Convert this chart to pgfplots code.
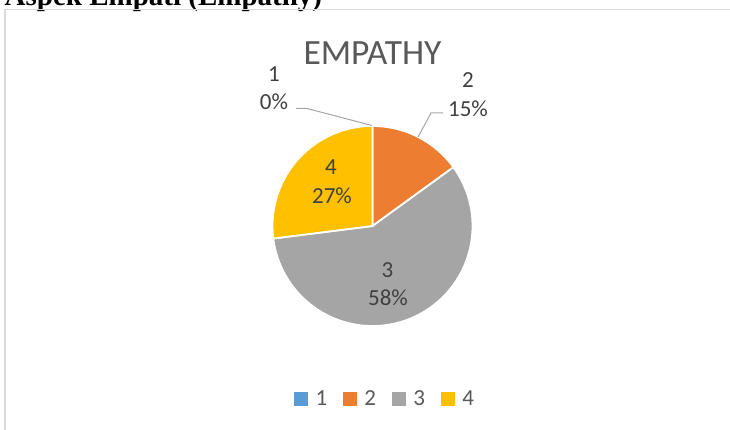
\documentclass[border=0pt]{standalone}
\usepackage{pgfplots}
\pgfplotsset{compat=1.18}
\usepackage{pgfplotstable}
\usepackage{fontspec}
\setmainfont{Carlito}
\newfontfamily\headfont{Liberation Serif}
\definecolor{c1}{HTML}{5B9BD5}
\definecolor{c2}{HTML}{ED7D31}
\definecolor{c3}{HTML}{A5A5A5}
\definecolor{c4}{HTML}{FFC000}
\definecolor{ttl}{HTML}{595959}
\definecolor{lbl}{HTML}{404040}
\definecolor{lead}{HTML}{A6A6A6}
\definecolor{frame}{HTML}{D9D9D9}

\pgfplotstableread{
cat value
1 0
2 15
3 58
4 27
}\pietable
\pgfplotstablegetelem{0}{value}\of\pietable \let\vA\pgfplotsretval
\pgfplotstablegetelem{1}{value}\of\pietable \let\vB\pgfplotsretval
\pgfplotstablegetelem{2}{value}\of\pietable \let\vC\pgfplotsretval
\pgfplotstablegetelem{3}{value}\of\pietable \let\vD\pgfplotsretval
\pgfmathsetmacro{\aO}{90}
\pgfmathsetmacro{\aA}{\aO-3.6*\vA}
\pgfmathsetmacro{\aB}{\aA-3.6*\vB}
\pgfmathsetmacro{\aC}{\aB-3.6*\vC}
\pgfmathsetmacro{\aD}{\aC-3.6*\vD}

\begin{document}
\begin{tikzpicture}[x=1pt,y=1pt,
  lab/.style={anchor=base, inner sep=0pt, text=lbl, font=\fontsize{23}{24}\selectfont}]
\useasboundingbox (0,0) rectangle (730,-430);
\clip (0,0) rectangle (730,-430);
\node[anchor=base west, inner sep=0pt, font=\headfont\bfseries\fontsize{29}{30}\selectfont] at (4.5,-6) {Aspek Empati (Empathy)};
\draw[color=frame, line width=1.3pt] (5,-440) -- (5,-9.5) -- (740,-9.5);
\node[anchor=base, inner sep=0pt, text=ttl, font=\fontsize{35.5}{36}\selectfont] at (372.5,-65) {EMPATHY};
\begin{axis}[at={(372.5,-226)}, anchor=center, x=100pt, y=100pt,
  xmin=-1, xmax=1, ymin=-1, ymax=1, hide axis, clip=false,
  legend columns=4,
  legend image code/.code={\fill[#1, draw=none] (0pt,0pt) rectangle (14pt,14pt);},
  legend style={at={(0.1075,-0.365)}, anchor=west, draw=none, fill=none,
    inner sep=0pt, outer sep=0pt, column sep=0pt,
    font=\fontsize{23}{24}\selectfont, text=ttl,
    cells={anchor=base west, inner sep=0pt},
    /tikz/every odd column/.append style={column sep=5.5pt},
    /tikz/every even column/.append style={column sep=13.8pt}},
  ]
\addplot[forget plot, draw=white, line width=1.8pt, fill=c2, domain=\aB:\aA, samples=60, variable=\t] ({cos(\t)},{sin(\t)}) -- (axis cs:0,0) -- cycle;
\addplot[forget plot, draw=white, line width=1.8pt, fill=c3, domain=\aC:\aB, samples=120, variable=\t] ({cos(\t)},{sin(\t)}) -- (axis cs:0,0) -- cycle;
\addplot[forget plot, draw=white, line width=1.8pt, fill=c4, domain=\aD:\aC, samples=80, variable=\t] ({cos(\t)},{sin(\t)}) -- (axis cs:0,0) -- cycle;
\addplot[forget plot, color=lead, line width=1pt] coordinates {(-0.765,1.175) (-0.655,1.175) (-0.005,1.005)};
\addplot[forget plot, color=lead, line width=1pt] coordinates {(0.705,1.13) (0.585,1.13) (0.455,0.89)};
\addlegendimage{fill=c1, draw=none}\addlegendentry{1}
\addlegendimage{fill=c2, draw=none}\addlegendentry{2}
\addlegendimage{fill=c3, draw=none}\addlegendentry{3}
\addlegendimage{fill=c4, draw=none}\addlegendentry{4}
\end{axis}
\node[lab] at (274,-82) {1};
\node[lab] at (274,-110) {0\%};
\node[lab] at (468,-88) {2};
\node[lab] at (468,-117) {15\%};
\node[lab] at (331,-175) {4};
\node[lab] at (332,-204) {27\%};
\node[lab] at (387.5,-277) {3};
\node[lab] at (388,-305) {58\%};
\end{tikzpicture}
\end{document}
